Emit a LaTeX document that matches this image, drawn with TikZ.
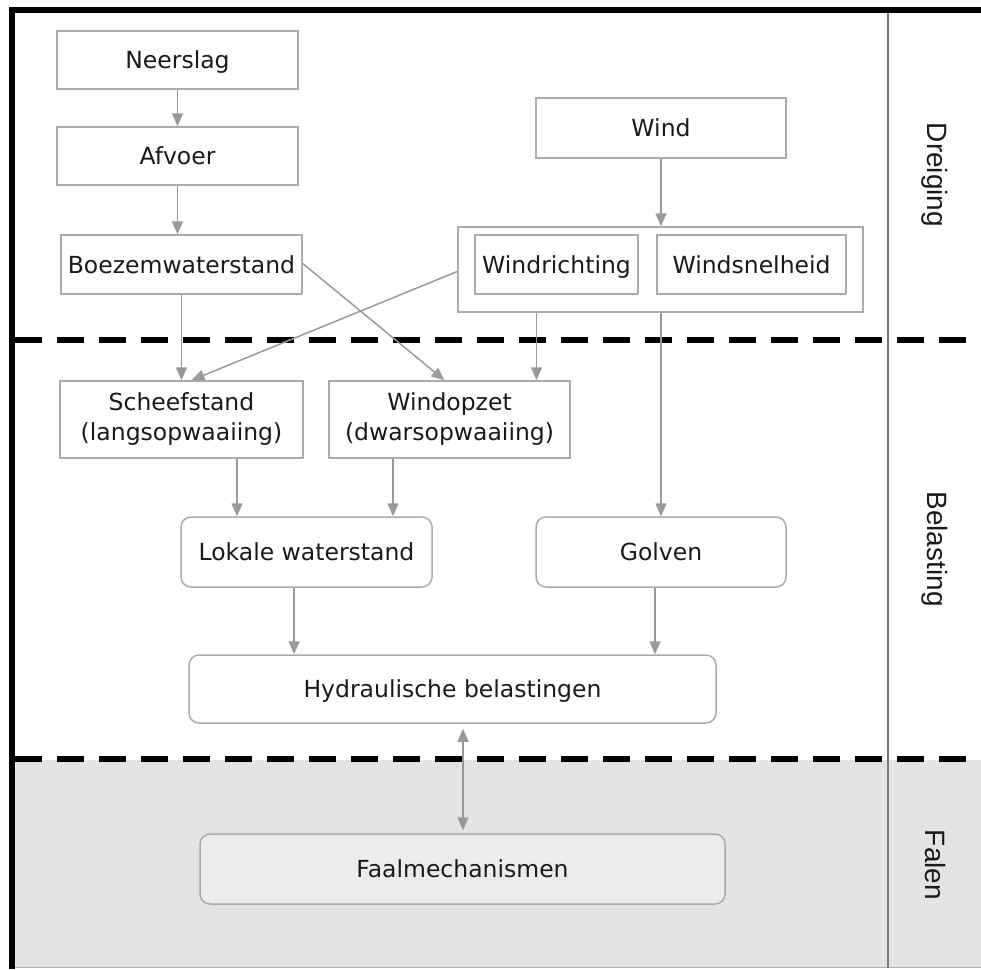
\documentclass[tikz,border=0pt]{standalone}
\usepackage{fontspec}
\setmainfont{DejaVu Sans}
\newfontfamily\sidefont{Liberation Sans}
\usetikzlibrary{arrows.meta}
\definecolor{boxgray}{HTML}{ABABAB}
\definecolor{arrgray}{HTML}{999999}
\definecolor{txt}{HTML}{1A1A1A}
\definecolor{faalgray}{HTML}{E4E4E4}
\definecolor{sepgray}{HTML}{777777}
\tikzset{
  box/.style={draw=boxgray, line width=1.5pt, fill=white, text=txt, inner sep=0pt,
    font=\fontsize{23.5}{30}\selectfont, align=center, anchor=center},
  one/.style={text height=21pt, text depth=4pt},
  rbox/.style={box, one, rounded corners=10pt},
  arr/.style={draw=arrgray, line width=1.5pt, -{Triangle[width=11pt,length=13pt]}},
  darr/.style={draw=arrgray, line width=1.5pt, {Triangle[width=11pt,length=13pt]}-{Triangle[width=11pt,length=13pt]}},
  side/.style={text=txt, font=\sidefont\fontsize{28}{32}\selectfont, rotate=-90, anchor=center},
  sepdash/.style={line width=6pt, dash pattern=on 27pt off 15pt}
}
\begin{document}
\begin{tikzpicture}[x=1pt,y=-1pt]
\useasboundingbox (0,0) rectangle (981,969);
% background bands
\fill[faalgray] (14,760) rectangle (981,968);
\draw[line width=1pt, sepgray!60] (14,967.5) -- (981,967.5);
\draw[line width=2pt, sepgray] (888,10) -- (888,968);
\draw[line width=6pt] (9,10) -- (981,10);
\draw[line width=6pt] (12,7) -- (12,969);
\draw[sepdash] (15,340) -- (981,340);
\draw[sepdash] (15,759) -- (981,759);

% nodes
\node[box, one, minimum width=241pt, minimum height=58pt] (neer) at (177.5,60) {Neerslag};
\node[box, one, minimum width=241pt, minimum height=58pt] (afv) at (177.5,156) {Afvoer};
\node[box, one, minimum width=241pt, minimum height=59pt] (boez) at (181.5,264.5) {Boezemwaterstand};
\node[box, one, minimum width=250pt, minimum height=60pt] (wind) at (661,128) {Wind};
\node[box, minimum width=405pt, minimum height=85pt] (grp) at (660.5,269.5) {};
\node[box, one, minimum width=163pt, minimum height=59pt] (wr) at (556.5,264.5) {Windrichting};
\node[box, one, minimum width=189pt, minimum height=59pt] (ws) at (751.5,264.5) {Windsnelheid};
\node[box, minimum width=243pt, minimum height=77pt] (sch) at (181.5,419.5) {Scheefstand\\(langsopwaaiing)};
\node[box, minimum width=241pt, minimum height=77pt] (wop) at (449.5,419.5) {Windopzet\\(dwarsopwaaiing)};
\node[rbox, minimum width=251pt, minimum height=70pt] (lok) at (306.5,552) {Lokale waterstand};
\node[rbox, minimum width=250pt, minimum height=70pt] (golv) at (661,552) {Golven};
\node[rbox, minimum width=527pt, minimum height=68pt] (hyd) at (452.5,689) {Hydraulische belastingen};
\node[rbox, fill=faalgray!70, minimum width=525pt, minimum height=70pt] (faal) at (462.5,869) {Faalmechanismen};

% side labels
\node[side] (dreig) at (935,175) {Dreiging};
\node[side] (bel) at (935,549) {Belasting};
\node[side] (fal) at (935,865) {Falen};

% connectors
\draw[arr] (neer.south) -- (afv.north);
\draw[arr] (afv.south) -- (afv.south |- boez.north);
\draw[arr] (wind.south) -- (wind.south |- grp.north);
\draw[arr] (boez.south) -- (boez.south |- sch.north);
\draw[arr] ([yshift=-2pt]grp.west) -- ([xshift=10pt]sch.north);
\draw[arr] ([yshift=1pt]boez.east) -- ([xshift=-5pt]wop.north);
\draw[arr] ([xshift=-124pt]grp.south) -- ([xshift=-124pt]grp.south |- wop.north);
\draw[arr] (golv.north |- grp.south) -- (golv.north);
\draw[arr] ([xshift=55.5pt]sch.south) -- ([xshift=55.5pt]sch.south |- lok.north);
\draw[arr] ([xshift=-56.5pt]wop.south) -- ([xshift=-56.5pt]wop.south |- lok.north);
\draw[arr] ([xshift=-12.5pt]lok.south) -- ([xshift=-12.5pt]lok.south |- hyd.north);
\draw[arr] ([xshift=-6pt]golv.south) -- ([xshift=-6pt]golv.south |- hyd.north);
\draw[darr, shorten <=5pt, shorten >=3pt] ([xshift=10.5pt]hyd.south) -- ([xshift=10.5pt]hyd.south |- faal.north);
\end{tikzpicture}
\end{document}
